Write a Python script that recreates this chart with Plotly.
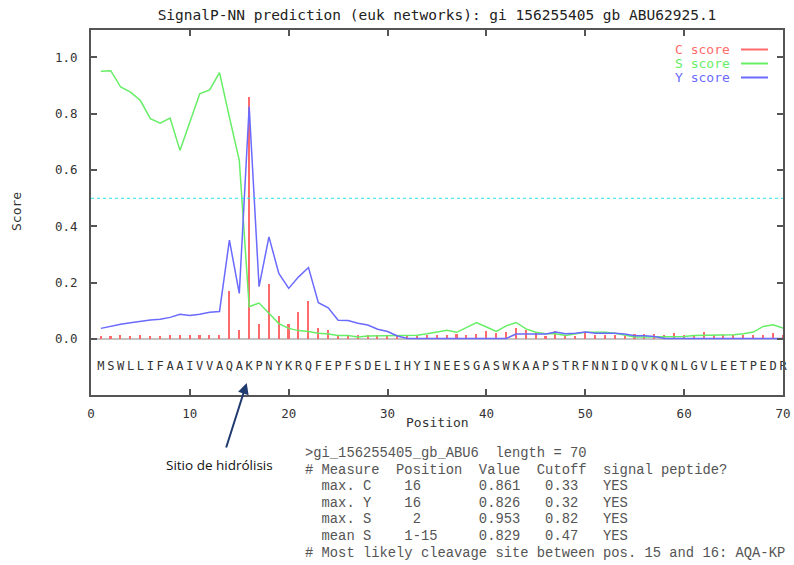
import plotly.graph_objects as go

# ---------------- data ----------------
SEQUENCE = "MSWLLIFAAIVVAQAKPNYKRQFEPFSDELIHYINEESGASWKAAPSTRFNNIDQVKQNLGVLEETPEDR"
positions = list(range(1, 71))

c_score = [0.010, 0.010, 0.016, 0.010, 0.016, 0.010, 0.010, 0.016, 0.016, 0.016,
           0.016, 0.016, 0.016, 0.171, 0.034, 0.861, 0.052, 0.194, 0.081, 0.055,
           0.095, 0.135, 0.038, 0.033, 0.015, 0.015, 0.015, 0.015, 0.015, 0.015,
           0.012, 0.012, 0.012, 0.015, 0.015, 0.015, 0.019, 0.015, 0.019, 0.027,
           0.021, 0.024, 0.041, 0.033, 0.021, 0.012, 0.027, 0.012, 0.012, 0.021,
           0.015, 0.015, 0.015, 0.012, 0.019, 0.019, 0.019, 0.014, 0.021, 0.015,
           0.014, 0.025, 0.015, 0.015, 0.015, 0.015, 0.015, 0.014, 0.021, 0.014]

s_score = [0.951, 0.953, 0.895, 0.877, 0.847, 0.783, 0.767, 0.785, 0.670, 0.771,
           0.871, 0.885, 0.946, 0.788, 0.635, 0.115, 0.128, 0.092, 0.055, 0.038,
           0.030, 0.027, 0.021, 0.018, 0.013, 0.013, 0.007, 0.011, 0.012, 0.012,
           0.013, 0.014, 0.014, 0.019, 0.025, 0.031, 0.024, 0.041, 0.059, 0.043,
           0.027, 0.047, 0.059, 0.036, 0.024, 0.019, 0.019, 0.013, 0.019, 0.024,
           0.024, 0.024, 0.021, 0.013, 0.007, 0.007, 0.007, 0.009, 0.009, 0.009,
           0.013, 0.013, 0.013, 0.013, 0.015, 0.019, 0.025, 0.045, 0.051, 0.039]

y_score = [0.038, 0.046, 0.053, 0.058, 0.064, 0.068, 0.070, 0.077, 0.088, 0.084,
           0.088, 0.095, 0.098, 0.351, 0.162, 0.826, 0.186, 0.363, 0.233, 0.180,
           0.221, 0.254, 0.129, 0.111, 0.067, 0.066, 0.056, 0.050, 0.035, 0.027,
           0.011, 0.002, 0.002, 0.002, 0.002, 0.002, 0.002, 0.002, 0.002, 0.002,
           0.002, 0.002, 0.018, 0.018, 0.018, 0.018, 0.025, 0.019, 0.021, 0.025,
           0.021, 0.021, 0.021, 0.018, 0.012, 0.012, 0.009, 0.002, 0.002, 0.002,
           0.002, 0.002, 0.002, 0.002, 0.002, 0.002, 0.002, 0.002, 0.002, 0.002]

CUTOFF = 0.5
x_ticks = [0, 10, 20, 30, 40, 50, 60, 70]
y_ticks = [0.0, 0.2, 0.4, 0.6, 0.8, 1.0]
y_tick_labels = ["0.0", "0.2", "0.4", "0.6", "0.8", "1.0"]
series_names = ["C score", "S score", "Y score"]

TITLE = "SignalP-NN prediction (euk networks): gi 156255405 gb ABU62925.1"
report_lines = [
    ">gi_156255405_gb_ABU6  length = 70",
    "# Measure  Position  Value  Cutoff  signal peptide?",
    "  max. C    16       0.861   0.33   YES",
    "  max. Y    16       0.826   0.32   YES",
    "  max. S     2       0.953   0.82   YES",
    "  mean S    1-15     0.829   0.47   YES",
    "# Most likely cleavage site between pos. 15 and 16: AQA-KP",
]
ANNOT_TEXT = "Sitio de hidrólisis"

# ---------------- styling ----------------
RED = "#ff6b6b"
GREEN = "#66ee66"
BLUE = "#6a6aff"
FRAME = "#555555"
MONO = "DejaVu Sans Mono"

W, H = 794, 565
L, R, T, B = 91, 11, 30, 170
PW, PH = W - L - R, H - T - B


def px_x(px):
    return (px - L) / PW


def px_y(py):
    return (H - B - py) / PH


fig = go.Figure()

fig.add_trace(go.Bar(x=positions, y=c_score, width=0.16, marker=dict(color=RED, line=dict(width=0)),
                     name=series_names[0], showlegend=False))
fig.add_trace(go.Scatter(x=positions, y=s_score, mode="lines", line=dict(color=GREEN, width=1.5),
                         name=series_names[1], showlegend=False))
fig.add_trace(go.Scatter(x=positions, y=y_score, mode="lines", line=dict(color=BLUE, width=1.5),
                         name=series_names[2], showlegend=False))

# cutoff line
fig.add_trace(go.Scatter(x=[x_ticks[0], x_ticks[-1]], y=[CUTOFF, CUTOFF], mode="lines",
                         line=dict(color="#22e6ee", width=1, dash="dot"), showlegend=False,
                         hoverinfo="skip"))

# sequence letters
fig.add_trace(go.Scatter(x=positions, y=[-0.1] * len(positions), mode="text",
                         text=list(SEQUENCE), textposition="middle center",
                         textfont=dict(family=MONO, size=12, color="#333333"),
                         cliponaxis=False, showlegend=False, hoverinfo="skip"))

axis_common = dict(showline=True, mirror="ticks", linecolor=FRAME, linewidth=2,
                   ticks="inside", ticklen=6, tickwidth=1.5, tickcolor=FRAME,
                   showgrid=False, tickfont=dict(family=MONO, size=12.5, color="#333333"))

fig.update_xaxes(range=[0, 70], tickvals=x_ticks, ticktext=[str(v) for v in x_ticks],
                 zeroline=False, ticklabelstandoff=6, **axis_common)
fig.update_yaxes(range=[-0.1986, 1.0975], tickvals=y_ticks, ticktext=y_tick_labels,
                 zeroline=True, zerolinecolor="#c4c4c4", zerolinewidth=2,
                 ticklabelstandoff=9, **axis_common)

annotations = []
# axis titles
annotations.append(dict(text="Position", xref="paper", yref="paper", x=0.5, y=px_y(423),
                        xanchor="center", yanchor="middle", showarrow=False,
                        font=dict(family=MONO, size=13, color="#333333")))
annotations.append(dict(text="Score", xref="paper", yref="paper", x=px_x(17), y=px_y(212),
                        xanchor="center", yanchor="middle", showarrow=False, textangle=-90,
                        font=dict(family=MONO, size=13, color="#333333")))

# legend (text left, line sample right)
legend_rows = [(series_names[0], RED, 49.5), (series_names[1], GREEN, 63.5), (series_names[2], BLUE, 77.5)]
shapes = []
for name, col, py in legend_rows:
    annotations.append(dict(text=name, xref="paper", yref="paper", x=px_x(732), y=px_y(py),
                            xanchor="right", yanchor="middle", showarrow=False,
                            font=dict(family=MONO, size=13, color=col)))
    shapes.append(dict(type="line", xref="paper", yref="paper", x0=px_x(741), x1=px_x(768),
                       y0=px_y(py), y1=px_y(py), line=dict(color=col, width=2)))

# report block
report_y = [453.5, 470.5, 486.8, 503.2, 519.6, 536.4, 553.0]
for line, py in zip(report_lines, report_y):
    annotations.append(dict(text=line.replace(" ", "\u00a0"), xref="paper", yref="paper",
                            x=px_x(303), y=px_y(py), xanchor="left", yanchor="middle",
                            showarrow=False,
                            font=dict(family="Liberation Mono", size=13.8, color="#555555")))

# arrow annotation
annotations.append(dict(text=ANNOT_TEXT, xref="paper", yref="paper", x=px_x(219), y=px_y(465),
                        xanchor="center", yanchor="middle", showarrow=False,
                        font=dict(family="Open Sans", size=13.5, color="#111111")))
annotations.append(dict(text="", x=15.75, y=-0.156, xref="x", yref="y",
                        ax=-21, ay=66, axref="pixel", ayref="pixel",
                        showarrow=True, arrowhead=2, arrowsize=1.1, arrowwidth=2,
                        arrowcolor="#1f3a6e", standoff=0, startstandoff=0))

fig.update_layout(
    width=W, height=H,
    margin=dict(l=L, r=R, t=T, b=B, autoexpand=False),
    paper_bgcolor="white", plot_bgcolor="white",
    title=dict(text=TITLE, x=0.5, xref="paper", y=1 - 15 / H, yref="container",
               xanchor="center", yanchor="middle",
               font=dict(family=MONO, size=14.5, color="#222222")),
    annotations=annotations, shapes=shapes, showlegend=False,
    bargap=0,
)

fig.write_html("out.html")
